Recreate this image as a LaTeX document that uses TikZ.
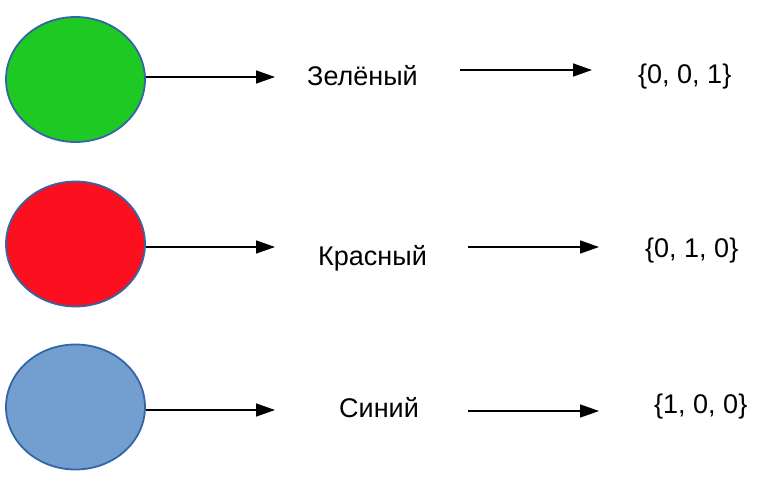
\documentclass[tikz,border=0pt]{standalone}
\usepackage{fontspec}
\setmainfont{Liberation Sans}
\usetikzlibrary{shapes.geometric,arrows.meta}

\definecolor{rim}{HTML}{3465A4}
\definecolor{grn}{HTML}{1FC924}
\definecolor{rd}{HTML}{FC0F1F}
\definecolor{blu}{HTML}{729FCF}

\tikzset{
  blob/.style={ellipse,draw=rim,line width=1.8pt,inner sep=0pt,
    minimum width=139pt,minimum height=125pt},
  word/.style={anchor=base west,inner sep=0pt,font=\fontsize{27}{31}\selectfont},
  arr/.style={line width=1.5pt,-{Triangle[length=19pt,width=13pt]}}
}

\begin{document}
\begin{tikzpicture}[x=1pt,y=-1pt]
  \useasboundingbox (0,0) rectangle (772,490);
  % colour blobs
  \node[blob,fill=grn] (g) at (75.5,79.5) {};
  \node[blob,fill=rd]  (r) at (75.5,244) {};
  \node[blob,fill=blu] (b) at (75.5,407) {};
  % names
  \node[word] (zel) at (307,85)  {Зелёный};
  \node[word] (kra) at (318,265) {Красный};
  \node[word] (sin) at (339,417) {Синий};
  % vectors
  \node[word] (v1) at (638,83)  {\{0, 0, 1\}};
  \node[word] (v2) at (645,257) {\{0, 1, 0\}};
  \node[word] (v3) at (654,413) {\{1, 0, 0\}};
  % arrow ends
  \coordinate (g1) at (275,77);
  \coordinate (r1) at (275,247);
  \coordinate (b1) at (275,410);
  \coordinate (z0) at (460,70);  \coordinate (z1) at (592,70);
  \coordinate (k0) at (468,247); \coordinate (k1) at (599,247);
  \coordinate (s0) at (468,411); \coordinate (s1) at (599,411);
  \path[arr]
    (g.east |- g1) edge (g1)
    (r.east |- r1) edge (r1)
    (b.east |- b1) edge (b1)
    (z0) edge (z1)
    (k0) edge (k1)
    (s0) edge (s1);
\end{tikzpicture}
\end{document}
